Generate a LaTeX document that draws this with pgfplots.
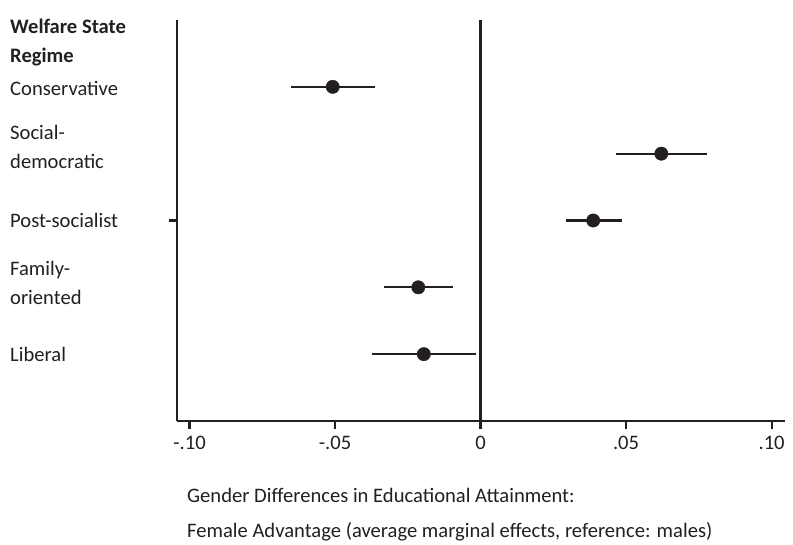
\documentclass[border=0pt]{standalone}
\usepackage{fontspec}
\setmainfont{Carlito}
\usepackage{pgfplots}
\pgfplotsset{compat=1.18}
\definecolor{ink}{HTML}{231F20}

\begin{document}
\fontsize{20.6bp}{29bp}\selectfont
\begin{tikzpicture}[every node/.style={text=ink}]
\path[use as bounding box] (0,0) rectangle (793bp,545bp);
\begin{axis}[
  at={(177bp,124bp)}, anchor=south west,
  scale only axis, width=608bp, height=401bp,
  xmin=-0.1043, xmax=0.1046, ymin=0, ymax=6,
  axis x line=bottom, axis y line=left,
  axis line style={-, line width=2.2bp, draw=ink},
  xtick={-0.1,-0.05,0,0.05,0.1},
  xticklabels={-.10,-.05,0,.05,.10},
  ytick={3}, yticklabels={},
  tick align=outside, major tick length=8bp,
  tick style={draw=ink, line width=2.2bp},
  xticklabel style={font=\fontsize{20.6bp}{25bp}\selectfont, text=ink, inner sep=0pt, yshift=-7bp},
  clip=false,
]
% reference line at zero
\addplot[draw=ink, line width=2.2bp, forget plot] coordinates {(0,0) (0,6)};

% average marginal effects with confidence intervals
\addplot[only marks, mark=*, mark size=6.7bp, mark options={fill=ink, draw=ink},
  error bars/.cd, x dir=both, x explicit, error mark=none,
  error bar style={line width=2.2bp, draw=ink}]
coordinates {
  (-0.0508,5) += (0.0145,0) -= (0.0143,0)
  (0.0621,4)  += (0.0156,0) -= (0.0154,0)
  (0.0387,3)  += (0.0098,0) -= (0.0093,0)
  (-0.0214,2) += (0.0118,0) -= (0.0118,0)
  (-0.0195,1) += (0.0179,0) -= (0.0178,0)
};

% regime names
\begin{scope}[every node/.append style={anchor=west, inner sep=0pt, align=left, xshift=-167bp}]
\node at (axis cs:-0.1043,5.67) {\bfseries Welfare State\\\bfseries Regime};
\node at (axis cs:-0.1043,4.97) {Conservative};
\node at (axis cs:-0.1043,4.10) {Social-\\democratic};
\node at (axis cs:-0.1043,3.0) {Post-socialist};
\node at (axis cs:-0.1043,2.07) {Family-\\oriented};
\node at (axis cs:-0.1043,1.0) {Liberal};
\end{scope}
\end{axis}

\node[anchor=mid west, inner sep=0pt] at (187bp,47bp) {Gender Differences in Educational Attainment:};
\node[anchor=mid west, inner sep=0pt] at (187bp,12bp) {Female Advantage (average marginal effects, reference: males)};
\end{tikzpicture}
\end{document}
